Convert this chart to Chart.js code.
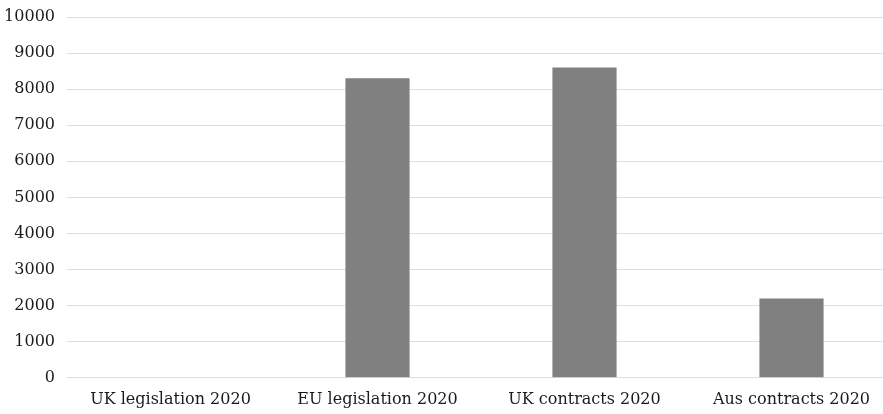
<!DOCTYPE html>
<html>
<head>
<meta charset="utf-8">
<script src="https://cdn.jsdelivr.net/npm/chart.js@4"></script>
<style>
  html, body { margin: 0; padding: 0; background: #fff; overflow: hidden; }
  #wrap { position: relative; width: 895px; height: 414px; }
</style>
</head>
<body>
<div id="wrap"><canvas id="chart"></canvas></div>
<script>
// категории и значения
const categories = ['UK legislation 2020', 'EU legislation 2020', 'UK contracts 2020', 'Aus contracts 2020'];
const counts = [0, 8300, 8600, 2200];
const yTicks = [0, 1000, 2000, 3000, 4000, 5000, 6000, 7000, 8000, 9000, 10000];

const font = { family: '"DejaVu Serif", serif', size: 16 };

new Chart(document.getElementById('chart'), {
  type: 'bar',
  data: {
    labels: categories,
    datasets: [{
      data: counts,
      backgroundColor: '#808080',
      barPercentage: 0.31,
      categoryPercentage: 1
    }]
  },
  options: {
    responsive: true,
    maintainAspectRatio: false,
    animation: false,
    layout: { padding: { top: 17, left: 4, right: 0, bottom: 0 } },
    plugins: { legend: { display: false }, tooltip: { enabled: false } },
    scales: {
      x: {
        grid: { display: false },
        border: { display: false },
        ticks: { color: '#1a1a1a', font: font, padding: 4, maxRotation: 0 },
        afterFit: axis => { axis.height += 1; }
      },
      y: {
        min: 0,
        max: 10000,
        afterBuildTicks: axis => { axis.ticks = yTicks.map(v => ({ value: v })); },
        // ширина оси фиксированная, верхний отступ задаёт layout.padding
        afterFit: axis => { axis.width = 63; axis.paddingTop = 0; },
        grid: { color: '#dedede', lineWidth: 1, drawTicks: false },
        border: { display: false },
        ticks: { color: '#1a1a1a', font: font, padding: 12, callback: v => String(v) }
      }
    }
  }
});
</script>
</body>
</html>
